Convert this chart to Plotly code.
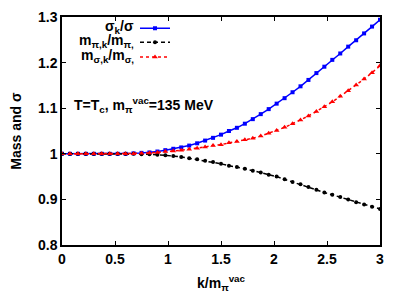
import plotly.graph_objects as go

k = [round(0.075 * i, 3) for i in range(41)]

sigma_ratio = [1.000, 1.000, 1.000, 1.000, 1.000, 1.000, 1.000, 1.000, 1.000, 1.001,
               1.002, 1.003, 1.005, 1.008, 1.011, 1.014, 1.018, 1.023, 1.029, 1.035,
               1.042, 1.050, 1.057, 1.066, 1.076, 1.087, 1.098, 1.110, 1.122, 1.135,
               1.148, 1.162, 1.177, 1.191, 1.206, 1.220, 1.235, 1.249, 1.264, 1.279,
               1.294]
mpi_ratio = [1.000, 1.000, 1.000, 1.000, 1.000, 1.000, 1.000, 1.000, 1.000, 1.000,
             0.999, 0.999, 0.998, 0.997, 0.995, 0.993, 0.990, 0.988, 0.985, 0.982,
             0.978, 0.974, 0.971, 0.967, 0.963, 0.959, 0.954, 0.950, 0.944, 0.938,
             0.933, 0.927, 0.921, 0.915, 0.910, 0.905, 0.900, 0.894, 0.889, 0.884,
             0.879]
msig_ratio = [1.000, 1.000, 1.000, 1.000, 1.000, 1.000, 1.000, 1.000, 1.000, 1.000,
              1.001, 1.002, 1.003, 1.005, 1.006, 1.008, 1.010, 1.012, 1.015, 1.018,
              1.020, 1.024, 1.027, 1.031, 1.034, 1.039, 1.045, 1.051, 1.058, 1.066,
              1.074, 1.083, 1.093, 1.103, 1.114, 1.126, 1.138, 1.151, 1.164, 1.178,
              1.193]

legend_labels = ["σ<sub>k</sub>/σ",
                 "m<sub>π,k</sub>/m<sub>π,</sub>",
                 "m<sub>σ,k</sub>/m<sub>σ,</sub>"]

FONT = "Liberation Sans"
ML, MR, MT, MB = 54, 35, 8.5, 69
PLOT_W = 407 - ML - MR
PLOT_H = 306 - MT - MB
row_y = [18.7, 32.7, 47.7]  # figure px of legend rows


def py(fig_px):
    return 1 - (fig_px - MT) / PLOT_H


fig = go.Figure()
fig.add_trace(go.Scatter(x=k, y=sigma_ratio, mode="lines+markers", name=" ",
                         legend="legend",
                         line=dict(color="#0000ff", width=1.5),
                         marker=dict(symbol="square", size=4, color="#0000ff")))
fig.add_trace(go.Scatter(x=k, y=mpi_ratio, mode="lines+markers", name=" ",
                         legend="legend2",
                         line=dict(color="black", width=1.5, dash="4px,3px"),
                         marker=dict(symbol="circle", size=4, color="black")))
fig.add_trace(go.Scatter(x=k, y=msig_ratio, mode="lines+markers", name=" ",
                         legend="legend3",
                         line=dict(color="#ff0000", width=1.5, dash="3px,3px"),
                         marker=dict(symbol="triangle-up", size=5, color="#ff0000")))

axis_common = dict(showline=True, linecolor="black", linewidth=1.5, mirror="ticks",
                   ticks="inside", ticklen=4, tickcolor="black", tickwidth=1,
                   showgrid=False, zeroline=False, automargin=True,
                   tickfont=dict(family=FONT, size=14, color="black", weight="bold"))

fig.update_xaxes(range=[0, 3], tickvals=[0, 0.5, 1, 1.5, 2, 2.5, 3],
                 ticktext=["0", "0.5", "1", "1.5", "2", "2.5", "3"],
                 title=dict(text="k/m<sub>π</sub><sup>vac</sup>", standoff=13,
                            font=dict(family=FONT, size=14, color="black", weight="bold")),
                 **axis_common)
fig.update_yaxes(range=[0.8, 1.3], tickvals=[0.8, 0.9, 1.0, 1.1, 1.2, 1.3],
                 ticktext=["0.8", "0.9", "1", "1.1", "1.2", "1.3"],
                 title=dict(text="Mass and σ", standoff=14,
                            font=dict(family=FONT, size=14, color="black", weight="bold")),
                 **axis_common)

annotations = []
for i, lab in enumerate(legend_labels):
    annotations.append(dict(text=lab, xref="paper", yref="paper",
                            x=(128 - ML) / PLOT_W, y=py(row_y[i] - 0.5),
                            xanchor="right", yanchor="middle", showarrow=False,
                            font=dict(family=FONT, size=14, color="black", weight="bold")))
annotations.append(dict(text="T=T<sub>c</sub>, m<sub>π</sub><sup>vac</sup>=135 MeV",
                        xref="x", yref="y", x=0.095, y=1.108, xanchor="left",
                        yanchor="middle", showarrow=False,
                        font=dict(family=FONT, size=14, color="black", weight="bold")))

leg_common = dict(xanchor="left", yanchor="middle", bgcolor="rgba(0,0,0,0)",
                  itemwidth=30, font=dict(family=FONT, size=11), itemclick=False,
                  borderwidth=0)
lx = (127 - ML) / PLOT_W

fig.update_layout(width=407, height=306,
                  margin=dict(l=ML, r=MR, t=MT, b=MB, autoexpand=False),
                  plot_bgcolor="white", paper_bgcolor="white",
                  showlegend=True,
                  legend=dict(x=lx, y=py(row_y[0] + 1), **leg_common),
                  legend2=dict(x=lx, y=py(row_y[1] + 1), **leg_common),
                  legend3=dict(x=lx, y=py(row_y[2] + 1), **leg_common),
                  annotations=annotations)

fig.write_html("out.html")
